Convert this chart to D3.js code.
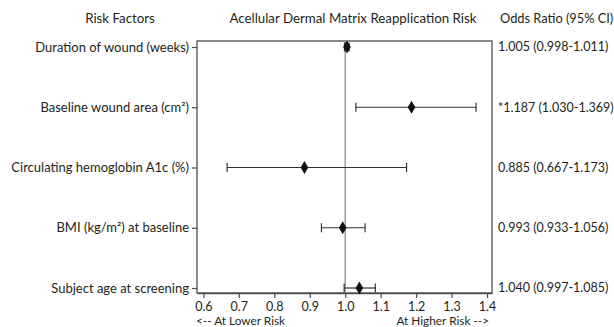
<!DOCTYPE html>
<html><head><meta charset="utf-8">
<script src="https://cdn.jsdelivr.net/npm/d3@7"></script>
<style>
body{margin:0;background:#fff;}
svg{display:block;font-family:Lato, "Open Sans", sans-serif;}
</style></head>
<body><svg id="c" width="614" height="327"></svg>
<script>
const factors = ["Duration of wound (weeks)","Baseline wound area (cm²)","Circulating hemoglobin A1c (%)","BMI (kg/m²) at baseline","Subject age at screening"];
const oddsRatio = [1.005,1.187,0.885,0.993,1.040];
const ciLow = [0.998,1.030,0.667,0.933,0.997];
const ciHigh = [1.011,1.369,1.173,1.056,1.085];
const orLabels = ["1.005 (0.998-1.011)","*1.187 (1.030-1.369)","0.885 (0.667-1.173)","0.993 (0.933-1.056)","1.040 (0.997-1.085)"];
const xTicks = [0.6,0.7,0.8,0.9,1.0,1.1,1.2,1.3,1.4];

const svg = d3.select("#c");
const L=197,R=492,T=41,B=293;
const x = d3.scaleLinear().domain([0.582,1.414]).range([L,R]);
const y = d3.scalePoint().domain(factors).range([47,288]);
const txt = "#231f20";

// frame
svg.append("rect").attr("x",L).attr("y",T).attr("width",R-L).attr("height",B-T)
  .attr("fill","none").attr("stroke","#4d4d4d").attr("stroke-width",1.3);

// reference line
svg.append("line").attr("x1",x(1)).attr("x2",x(1)).attr("y1",T).attr("y2",B)
  .attr("stroke","#9a9a9a").attr("stroke-width",1.4);

// bottom axis
const gx = svg.append("g").attr("transform",`translate(0,${B})`)
  .call(d3.axisBottom(x).tickValues(xTicks).tickFormat(d3.format(".1f")).tickSize(5).tickPadding(4).tickSizeOuter(0));
gx.select(".domain").attr("stroke","#4d4d4d").attr("stroke-width",1.3);
gx.selectAll(".tick line").attr("stroke","#4d4d4d").attr("stroke-width",1.2);
gx.selectAll(".tick text").attr("fill",txt).attr("font-size",12.5).attr("font-family","Lato, sans-serif");

// left axis
const gy = svg.append("g").attr("transform",`translate(${L},0)`)
  .call(d3.axisLeft(y).tickSize(5).tickPadding(3).tickSizeOuter(0));
gy.select(".domain").remove();
gy.selectAll(".tick line").attr("stroke","#4d4d4d").attr("stroke-width",1.2);
gy.selectAll(".tick text").attr("fill",txt).attr("font-size",13).attr("font-family","Lato, sans-serif");

// CI lines
const rows = factors.map((f,i)=>({f,or:oddsRatio[i],lo:ciLow[i],hi:ciHigh[i],lab:orLabels[i]}));
const g = svg.append("g");
g.selectAll("line.ci").data(rows).join("line").attr("class","ci")
  .attr("x1",d=>x(d.lo)).attr("x2",d=>x(d.hi)).attr("y1",d=>y(d.f)).attr("y2",d=>y(d.f))
  .attr("stroke","#333").attr("stroke-width",1.2);
g.selectAll("line.capl").data(rows).join("line").attr("class","capl")
  .attr("x1",d=>x(d.lo)).attr("x2",d=>x(d.lo)).attr("y1",d=>y(d.f)-4.5).attr("y2",d=>y(d.f)+4.5)
  .attr("stroke","#333").attr("stroke-width",1.2);
g.selectAll("line.caph").data(rows).join("line").attr("class","caph")
  .attr("x1",d=>x(d.hi)).attr("x2",d=>x(d.hi)).attr("y1",d=>y(d.f)-4.5).attr("y2",d=>y(d.f)+4.5)
  .attr("stroke","#333").attr("stroke-width",1.2);
g.selectAll("path.pt").data(rows).join("path").attr("class","pt")
  .attr("d",d3.symbol(d3.symbolDiamond,50))
  .attr("transform",d=>`translate(${x(d.or)},${y(d.f)})`).attr("fill","#111");

// right labels
svg.append("g").selectAll("text").data(rows).join("text")
  .attr("x",498).attr("y",d=>y(d.f)).attr("dy","0.35em")
  .attr("font-size",12.5).attr("fill",txt).text(d=>d.lab);

// headers
const hdr = svg.append("g").attr("font-size",13.3).attr("fill",txt);
hdr.append("text").attr("x",120).attr("y",23).attr("text-anchor","middle").text("Risk Factors");
hdr.append("text").attr("x",353).attr("y",23).attr("text-anchor","middle").text("Acellular Dermal Matrix Reapplication Risk");
hdr.append("text").attr("x",500).attr("y",23).attr("font-size",12.8).text("Odds Ratio (95% CI)");

// risk direction
svg.append("text").attr("x",196).attr("y",325).attr("font-size",11.8).attr("fill",txt).text("<-- At Lower Risk");
svg.append("text").attr("x",489).attr("y",325).attr("text-anchor","end").attr("font-size",11.8).attr("fill",txt).text("At Higher Risk -->");
</script></body></html>
